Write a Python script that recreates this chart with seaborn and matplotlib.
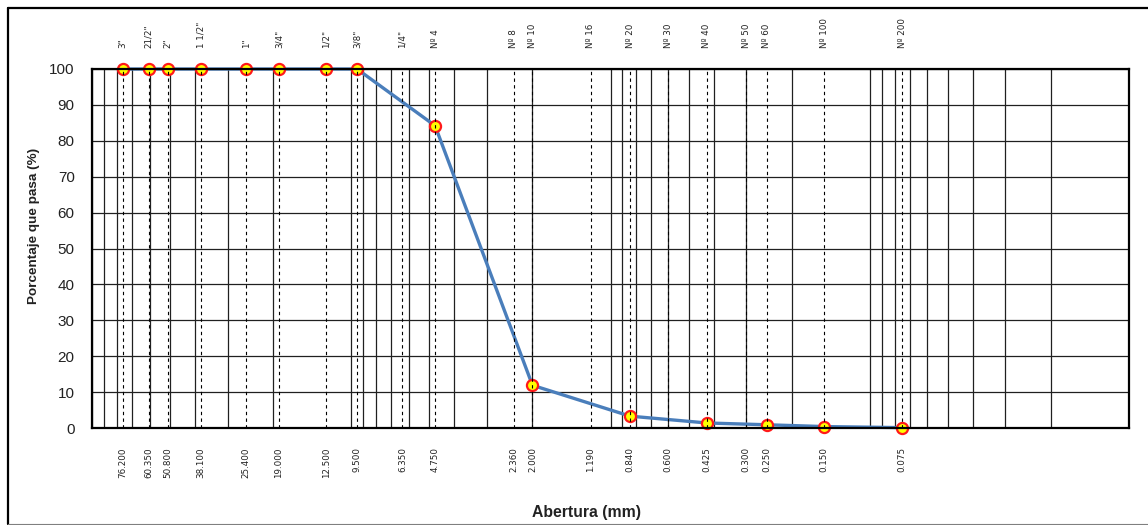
import numpy as np
import pandas as pd
import matplotlib
matplotlib.use("Agg")
import matplotlib.pyplot as plt
from matplotlib.lines import Line2D
from matplotlib.ticker import LogLocator, NullLocator, NullFormatter, FixedLocator
import seaborn as sns

# Sieve series (ASTM) and percentage passing
sieve_names = ['3"', '21/2"', '2"', '1 1/2"', '1"', '3/4"', '1/2"', '3/8"', '1/4"',
               'Nº 4', 'Nº 8', 'Nº 10', 'Nº 16', 'Nº 20', 'Nº 30', 'Nº 40',
               'Nº 50', 'Nº 60', 'Nº 100', 'Nº 200']
opening_mm = [76.2, 60.35, 50.8, 38.1, 25.4, 19.0, 12.5, 9.5, 6.35, 4.75,
              2.36, 2.0, 1.19, 0.84, 0.6, 0.425, 0.3, 0.25, 0.15, 0.075]
passing_pct = [100, 100, 100, 100, 100, 100, 100, 100, np.nan, 84.2,
               np.nan, 11.9, np.nan, 3.3, np.nan, 1.4, np.nan, 0.9, 0.4, 0.1]
y_ticks = list(range(0, 101, 10))

df = pd.DataFrame({"abertura": opening_mm, "pasa": passing_pct, "tamiz": sieve_names})
curve = df.dropna(subset=["pasa"])

sns.set_theme(style="white")
plt.rcParams["font.family"] = ["DejaVu Sans"]

W, H = 1148, 525
fig = plt.figure(figsize=(W / 100, H / 100), dpi=100)
fig.patch.set_facecolor("white")
ax = fig.add_axes([92 / W, 1 - 428 / H, (1129 - 92) / W, (428 - 69) / H])
ax.set_facecolor("white")

ax.set_xscale("log")
ax.set_xlim(100, 0.01)
ax.set_ylim(0, 100)

# logarithmic grid (vertical) and percentage grid (horizontal)
ax.xaxis.remove_overlapping_locs = False
ax.xaxis.set_major_locator(NullLocator())
ax.xaxis.set_minor_locator(LogLocator(base=10, subs=np.arange(1, 10), numticks=100))
ax.xaxis.set_minor_formatter(NullFormatter())
ax.yaxis.set_major_locator(FixedLocator(y_ticks))
ax.grid(which="minor", axis="x", color="#202020", linewidth=0.9, zorder=1)
ax.grid(which="major", axis="y", color="#202020", linewidth=0.9, zorder=1)
ax.tick_params(axis="x", which="both", length=0, labelbottom=False)
ax.tick_params(axis="y", which="major", direction="out", length=4.5, width=1,
               color="black", pad=8.0, labelsize=11, labelcolor="#222222")
for lab in ax.get_yticklabels():
    lab.set_fontfamily("Liberation Sans")

for side in ["left", "right", "top", "bottom"]:
    ax.spines[side].set_color("black")
    ax.spines[side].set_linewidth(1.6)
    ax.spines[side].set_zorder(6)

# dashed reference line at every sieve opening
ax.vlines(df["abertura"], 0, 100, colors="black", linestyles=(0, (3, 3)),
          linewidth=0.8, zorder=4)

# grading curve
sns.lineplot(data=curve, x="abertura", y="pasa", ax=ax, sort=False,
             color="#4a7ebb", linewidth=2.4, marker="o", markersize=8,
             markerfacecolor="#ffff00", markeredgecolor="#ff1a1a",
             markeredgewidth=1.6, zorder=3, clip_on=False)
ax.set_xlabel("")
ax.set_ylabel("")

# sieve names above the plot, openings below
xt = ax.get_xaxis_transform()
for name, size in zip(df["tamiz"], df["abertura"]):
    ax.text(size, (428 - 48) / (428 - 69), name, transform=xt, rotation=90,
            ha="center", va="bottom", fontsize=6.3, color="#222222")
    ax.text(size, (428 - 447) / (428 - 69), f"{size:.3f}", transform=xt,
            rotation=90, ha="center", va="top", fontsize=6.3, color="#222222")

fig.text(34 / W, 1 - 225.5 / H, "Porcentaje que pasa (%)", rotation=90,
         ha="center", va="center", fontsize=9.7, fontweight="bold",
         fontfamily="Liberation Sans", color="#222222")
fig.text(587 / W, 1 - 512.5 / H, "Abertura (mm)", ha="center", va="center",
         fontsize=11.3, fontweight="bold", fontfamily="Liberation Sans",
         color="#222222")

# chart frame
fig.add_artist(Line2D([8 / W, 8 / W], [1 - 8 / H, 1 - 524 / H],
                      transform=fig.transFigure, color="black", linewidth=1.6))
fig.add_artist(Line2D([8 / W, 1.0], [1 - 8 / H, 1 - 8 / H],
                      transform=fig.transFigure, color="black", linewidth=1.6))
fig.add_artist(Line2D([8 / W, 1.0], [1 - 524 / H, 1 - 524 / H],
                      transform=fig.transFigure, color="#7f7f7f", linewidth=0.8))

fig.savefig("out.png", dpi=100, facecolor="white")
